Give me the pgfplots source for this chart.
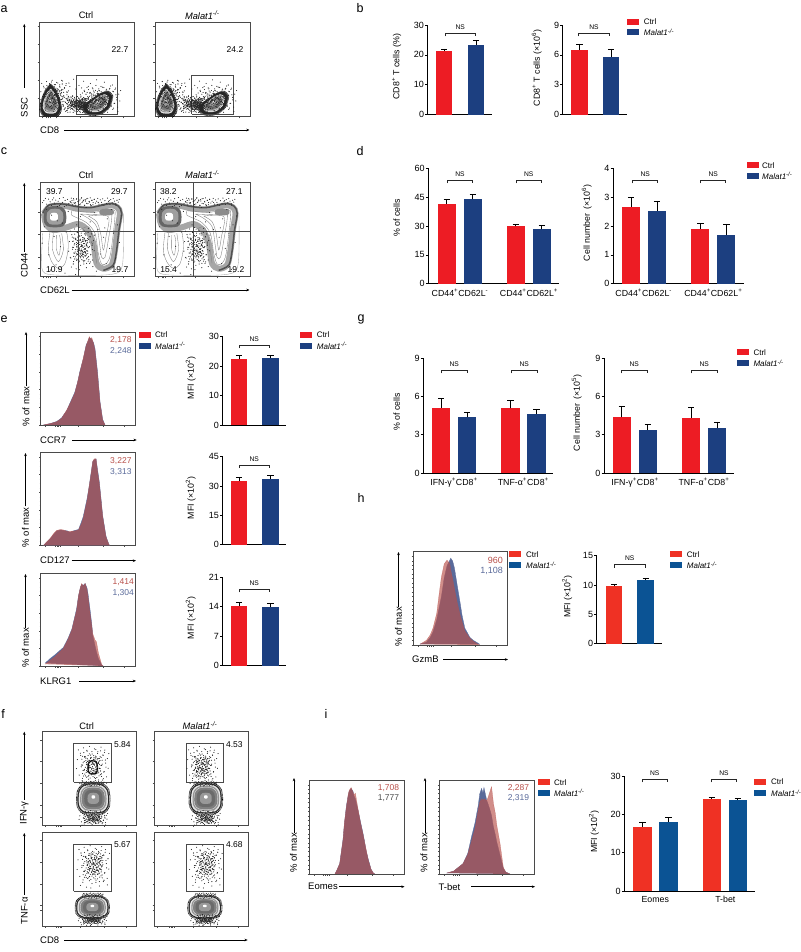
\documentclass[border=0pt]{standalone}
\usepackage{pgfplots}
\pgfplotsset{compat=1.18}
\usepackage{pgfplotstable}
\usepackage{fontspec}
\setmainfont{Liberation Sans}
\usetikzlibrary{arrows.meta}
\definecolor{cR}{HTML}{ED1C24}
\definecolor{cB}{HTML}{1C3F80}
\definecolor{dR}{HTML}{EF3124}
\definecolor{dB}{HTML}{0B5394}
\definecolor{hR}{HTML}{B8504A}
\definecolor{hB}{HTML}{5A6A9A}
\definecolor{fr}{HTML}{4A4A4A}
\newcommand\fs[1]{\fontsize{#1}{#1}\selectfont}
\newcommand\mal{\textit{Malat1}\textsuperscript{\textit{-/-}}}
% ---------- axis styles
\pgfplotsset{
 place/.style 2 args={at={(#1pt,{(952-#2)*1pt})},anchor=south west},
 barax/.style={scale only axis,axis x line=bottom,axis y line=left,
   axis line style={-,line width=.7pt,black},xmin=0,ymin=0,xtick=\empty,
   tick align=outside,ytick pos=left,major tick length=2.5pt,
   y tick style={line width=.6pt,black},x tick style={draw=none},
   /pgf/number format/assume math mode=true,
   yticklabel style={font=\fs{9},inner sep=1pt},
   xticklabel style={font=\fs{8.8},yshift=-1.5pt,inner sep=1pt},
   clip=false},
 ebar/.style={error bars/y dir=plus,error bars/y explicit,
   error bars/error mark options={rotate=90,mark size=3.2pt,line width=.7pt,black},
   error bars/error bar style={line width=.7pt,black}},
 rbar/.style={ybar,bar shift=0pt,fill=cR,draw=none,ebar},
 bbar/.style={ybar,bar shift=0pt,fill=cB,draw=none,ebar},
 facs/.style={scale only axis,axis line style={line width=.7pt,fr},
   xticklabels={},yticklabels={},tick align=outside,xtick pos=left,ytick pos=left,
   major tick length=1.6pt,minor tick length=1pt,minor x tick num=3,minor y tick num=3,
   tick style={line width=.35pt,fr},clip=true},
 hist/.style={facs,xmin=0,xmax=100,ymin=0,ymax=100,
   xtick={5,15,17,19,21,40,66,88},ytick={0,19,38,57,76,95}},
 hr/.style={fill=hR,fill opacity=.65,draw=hR,draw opacity=.6,line width=.3pt},
 hb/.style={fill=hB,draw=hB,line width=.3pt},
 gate/.style={draw=fr,line width=.7pt,no markers},
 spk/.style={only marks,mark=*,mark size=.25pt,black!85},
}
% ---------- annotation macros (positions in image pixels, y from top)
\newcommand\txt[4][9]{\node[font=\fs{#1},inner sep=0pt] at (#2,{952-#3}) {#4};}
\newcommand\ltxt[4][9.5]{\node[font=\fs{#1},inner sep=0pt,anchor=west] at (#2,{952-#3}) {#4};}
\newcommand\rtxt[5][8.5]{\node[font=\fs{#1},inner sep=0pt,anchor=east,text=#5] at (#2,{952-#3}) {#4};}
\newcommand\vtxt[4][8.8]{\node[font=\fs{#1},inner sep=0pt,rotate=90] at (#2,{952-#3}) {#4};}
\newcommand\NS[4]{\draw[line width=.55pt,black!85] (#1,{952-#3-3.2}) -- (#1,{952-#3}) -- (#2,{952-#3}) -- (#2,{952-#3-3.2});
  \node[font=\fs{6.7},inner sep=0pt] at ({(#1+#2)/2},{952-#4}) {NS};}
\newcommand\leg[6][cR]{\fill[#1] (#2,{952-#3-3}) rectangle ({#2+12},{952-#3+3});
  \fill[#6] (#2,{952-#4-3}) rectangle ({#2+12},{952-#4+3});
  \node[font=\fs{8},inner sep=0pt,anchor=west] at (#5,{952-#3}) {Ctrl};
  \node[font=\fs{8},inner sep=0pt,anchor=west] at (#5,{952-#4}) {\mal};}
\newcommand\harr[3]{\draw[line width=.6pt,-{Stealth[length=3.2pt,width=2.6pt]}] (#1,{952-#3}) -- (#2,{952-#3});}
\newcommand\varr[3]{\draw[line width=.6pt,-{Stealth[length=3.2pt,width=2.6pt]}] (#1,{952-#2}) -- (#1,{952-#3});}
\newcommand\lett[3]{\node[font=\fs{12.5},inner sep=0pt] at (#1,{952-#2}) {#3};}
% ---------- contour outlines, unit shapes read by eye
\pgfplotstableread{
x y
1 0
.92 .55
.6 .9
0 1
-.6 .9
-.92 .55
-1 0
-.95 -.55
-.65 -.92
0 -1
.65 -.92
.95 -.55
1 0
}\blobR
\pgfplotstableread{
x y
0 1
.45 .65
.8 .1
.95 -.5
.6 -.92
0 -1
-.6 -.92
-.95 -.5
-.8 .1
-.45 .65
0 1
}\blobT
\pgfplotstableread{
x y
1 .5
.7 .85
.2 .7
-.4 .25
-.95 -.3
-.95 -.7
-.5 -.95
.2 -.85
.8 -.3
1 .5
}\blobE
\pgfplotstableread{
x y
-.92 .31
-.81 -.44
-.74 .62
-.68 .05
-.63 -.71
-.55 .88
-.52 -.22
-.47 .41
-.41 -.93
-.38 .17
-.33 .72
-.28 -.51
-.22 -.08
-.19 .95
-.12 .36
-.08 -.77
-.03 .58
.02 -.34
.07 .12
.11 .83
.16 -.61
.21 .44
.26 -.15
.31 .69
.36 -.88
.4 .24
.46 -.42
.5 .91
.54 .03
.6 -.68
.63 .52
.69 -.27
.73 .77
.78 .14
.83 -.53
.88 .36
.93 -.11
.97 .6
-.97 -.13
-.86 .78
-.77 -.85
.84 -.83
.57 .28
-.15 -.97
.13 -.2
-.6 .47
}\speck
\newcommand\bl[6]{\addplot[smooth,no markers,#6] table[x expr={#2+#4*\thisrow{x}},y expr={#3-#5*\thisrow{y}}]{#1};}
\newcommand\cont[6]{%
 \bl{#1}{#2}{#3}{(#6+.07)*#4}{(#6+.07)*#5}{draw=black,line width=.9pt,dash pattern=on .6pt off .6pt}
 \bl{#1}{#2}{#3}{#6*#4}{#6*#5}{fill=black!85,draw=black!85}
 \bl{#1}{#2}{#3}{#4}{#5}{fill=black!10,draw=none}
 \bl{#1}{#2}{#3}{.9*#4}{.9*#5}{fill=black!42,draw=none}
 \bl{#1}{#2}{#3}{.8*#4}{.8*#5}{fill=black!50,draw=white,line width=.25pt}
 \bl{#1}{#2}{#3}{.62*#4}{.62*#5}{fill=black!58,draw=none}
 \bl{#1}{#2}{#3}{.4*#4}{.4*#5}{fill=black!40,draw=none}
 \bl{#1}{#2}{(#3-.1*#5)}{.12*#4}{.12*#5}{fill=white,draw=none}
}
\newcommand\spk[4]{\addplot[spk] table[x expr={#1+#3*\thisrow{x}},y expr={#2-#4*\thisrow{y}}]{\speck};}
% a cloud of specks thickening to its centre
\newcommand\cl[4]{%
 \spk{#1}{#2}{#3}{#4}
 \spk{(#1+2)}{(#2-3)}{(-.78*#3)}{(.78*#4)}
 \spk{(#1-2)}{(#2+2)}{(.58*#3)}{(-.58*#4)}
 \spk{(#1+1)}{(#2-1)}{(-.4*#3)}{(-.4*#4)}
}
% panel a contents
\newcommand\panelA{%
 \spk{240}{285}{100}{50}
 \cl{165}{292}{46}{54}
 \cl{300}{298}{64}{44}
 \cl{225}{312}{36}{26}
 \cl{252}{316}{26}{22}
 \cont{\blobT}{152}{303}{25}{38}{1.28}
 \cont{\blobE}{294}{308}{33}{30}{1.28}
}
% panel c contents
\newcommand\panelC{%
 \spk{245}{715}{122}{112}
 \spk{205}{606}{80}{14}
 \spk{285}{605}{75}{12}
 \addplot[no markers,smooth,draw=black!35,line width=.35pt] coordinates {(128,700)(125,780)(135,820)(220,826)(340,822)(368,790)(370,640)};
 \addplot[no markers,smooth,draw=black!35,fill=white,line width=6pt] coordinates {(132,640)(150,620)(190,617)(225,624)(270,628)(330,616)(352,622)(360,640)(352,690)(345,750)(335,795)(310,806)(290,790)(280,730)(262,690)(235,672)(200,682)(160,690)(138,672)(132,640)};
 \addplot[no markers,smooth,draw=black!68,line width=1.5pt] coordinates {(128,640)(147,615)(190,612)(225,619)(270,623)(330,611)(355,618)(365,640)(357,690)(350,750)(340,795)(310,811)};
 \addplot[no markers,smooth,draw=black!50,line width=.35pt] coordinates {(215,632)(280,637)(338,628)(345,650)(332,760)(320,790)(305,792)(295,760)(285,700)(260,668)(235,655)(215,645)(215,632)};
 \addplot[no markers,smooth,draw=black!50,line width=.35pt] coordinates {(240,642)(300,644)(335,640)(325,720)(315,772)(305,772)(300,740)(290,680)(265,655)(240,642)};
 \addplot[no markers,smooth,draw=black!50,line width=.35pt] coordinates {(265,648)(325,650)(318,710)(310,750)(302,700)(290,665)(265,648)};
 \addplot[no markers,smooth,draw=black!50,line width=.35pt] coordinates {(150,695)(145,750)(155,785)(175,805)(195,790)(205,740)(200,695)};
 \addplot[no markers,smooth,draw=black!50,line width=.35pt] coordinates {(160,700)(158,750)(175,785)(190,750)(185,700)};
 \addplot[no markers,smooth,draw=black!50,line width=.35pt] coordinates {(170,705)(170,750)(178,765)(182,725)(178,705)};
 \addplot[no markers,smooth,draw=black!50,line width=.35pt] coordinates {(240,690)(265,680)(278,710)(290,790)};
 \cl{245}{745}{40}{66}
 \bl{\blobR}{165}{650}{34}{32}{fill=black!60,draw=none}
 \bl{\blobR}{165}{650}{25}{24}{fill=black!38,draw=none}
 \bl{\blobR}{162}{650}{12}{12}{fill=white,draw=none}
 \bl{\blobR}{320}{636}{22}{10}{fill=black!45,draw=none}
}
% panel f clouds
\newcommand\cloudOne{%
 \cl{278}{228}{50}{62}
 \bl{\blobR}{278}{232}{14}{20}{draw=black,line width=1.5pt,dash pattern=on 1pt off .4pt}
 \bl{\blobR}{278}{232}{6}{10}{fill=white,draw=none}
}
\newcommand\cloudTwo{%
 \cl{270}{228}{48}{62}
 \spk{268}{232}{20}{28}
}
\newcommand\fblob{%
 \cl{280}{385}{44}{24}
 \spk{278}{281}{35}{7}
 \cont{\blobR}{280}{325}{44}{42}{1.07}
}
\newcommand\cloudThree{%
 \cl{280}{530}{50}{66}
 \spk{286}{515}{22}{30}
}
\newcommand\fblobb{%
 \cl{278}{690}{44}{17}
 \spk{278}{617}{32}{8}
 \cont{\blobR}{277}{651}{45}{31}{1.07}
}
% ---------- histograms, % of max against channel position
\pgfplotstableread{
x r b
2.8 0 0
10 1.5 1.5
17 3.5 3.8
22 7 7.5
27.5 16 15.5
32 25 26
36 34 35
39 46 46
41.5 57 58
45 72 71
48 85 86
50 91 90
51.4 95 94
53 92 93
54 94 92
56 87 88
57.4 80 82
60 55 58
62.7 24 25
65.5 5 6
68 0 0
}\hCCR
\pgfplotstableread{
x r b
3 0 0
10 7.5 7
14 13 12
17 16 15.5
21 17 16.5
24 16.5 16
28 15 15.5
31 15 14
36 15.5 16
40 16.5 17
43 23 25
45 29 31
49 48 50
51 62 62
53 75 76
55 90 90
56.5 93 92
58.5 93 93
60 80 82
62 66 68
65.5 31 32
69 9 10
72 1 1
73 0 0
}\hCD
\pgfplotstableread{
x r b
4.6 2 3
10 6 8
15 10 12
24 19 20
29 29 30
33 39 40
36 52 53
38 60 62
40 76 76
42 85 85
43.3 89 88
45 86 87
47 89 89
49 82 84
50 75 78
52 58 62
54 43 45
55 35 33
57.4 28 22
59 26 15
61 14 8
64.5 1.5 1
66 0 0
}\hKL
\pgfplotstableread{
x r b
7 .7 1
14 5 3
18 10.7 8
21 18 14
25 34 27
28 58 42
30 73 52
33 87 72
36 91 85
39 87 91
40 80 93
42 71 90
44 60 82
47 45 63
50 32 45
52 25 32
55 15 18
60.5 7 8
64 4 5
69 .7 2
71 0 .7
}\hGz
\pgfplotstableread{
x r b
27 0 0
29 4 4
32 11 11
35.5 36 37
37 55 54
39 71 72
41 85 84
42 89 88
44 92 91
46 87 88
47 84 83
48.5 86 80
51.5 68 67
54 54 55
57 40 41
60 25 24
62 15 16
65 5 5
67.4 1 1
69 0 0
}\hEo
\pgfplotstableread{
x r b
7.7 1 1
15 3 3
25 11 11
30 21 22
34 35 40
37.5 48 54
41 68 73
42.5 76 85
44.5 80 91
46 78 86
47 80 92
50 78 78
51.5 82 74
54 90 66
55 93 62
57 75 50
58.9 65 42
60.5 52 34
64 32 20
67.4 7 6
70 2 2
74.4 0 0
}\hTb
\begin{document}
\begin{tikzpicture}[x=1pt,y=1pt]
\useasboundingbox (0,0) rectangle (800,952);
% ===== panel letters
\lett{4}{9}{a}\lett{360}{8}{b}\lett{4}{151}{c}\lett{360}{151}{d}\lett{4}{319}{e}\lett{3}{714}{f}
\lett{361}{319}{g}\lett{361}{498}{h}\lett{326}{714}{i}
% ===== a
\begin{axis}[facs,place={39.3}{116.7},width=94.7pt,height=94pt,xmin=118,xmax=402,ymin=68,ymax=350,y dir=reverse,
 xtick={128,140,145,150,170,240,305,370},ytick={78,133,187,241,295}]
\panelA
\addplot[gate] coordinates {(228,343)(228,225)(352,225)(352,343)(228,343)};
\end{axis}
\begin{axis}[facs,place={155}{116.7},width=95pt,height=94pt,xmin=118,xmax=402,ymin=68,ymax=350,y dir=reverse,
 xtick={128,140,145,150,170,240,305,370},ytick={78,133,187,241,295}]
\panelA
\addplot[gate] coordinates {(228,343)(228,225)(352,225)(352,343)(228,343)};
\end{axis}
\txt[9.3]{86}{15}{Ctrl}\txt[9.3]{202.3}{15}{\mal}
\txt[8.5]{120}{49.3}{22.7}\txt[8.5]{235}{49.3}{24.2}
\varr{24.3}{88}{24}\vtxt[9.5]{24.3}{107.5}{SSC}
\ltxt{40}{130}{CD8}\harr{64}{249.5}{130}
% ===== c
\begin{axis}[facs,place={40}{276.7},width=94.3pt,height=94pt,xmin=120,xmax=403,ymin=548,ymax=830,y dir=reverse,
 xtick={130,140,145,150,170,240,305,370},ytick={568,637,703,770,803}]
\panelC
\addplot[gate] coordinates {(235,548)(235,830)};
\addplot[gate] coordinates {(120,693)(403,693)};
\end{axis}
\begin{axis}[facs,place={155}{276.7},width=95pt,height=94pt,xmin=120,xmax=403,ymin=548,ymax=830,y dir=reverse,
 xtick={130,140,145,150,170,240,305,370},ytick={568,637,703,770,803}]
\panelC
\addplot[gate] coordinates {(235,548)(235,830)};
\addplot[gate] coordinates {(120,693)(403,693)};
\end{axis}
\txt[9.3]{86}{174.7}{Ctrl}\txt[9.3]{202.3}{174.7}{\mal}
\txt[8.5]{54.3}{192}{39.7}\txt[8.5]{119.3}{192}{29.7}\txt[8.5]{54.3}{269.3}{10.9}\txt[8.5]{120}{269.3}{19.7}
\txt[8.5]{168.3}{191.5}{38.2}\txt[8.5]{234.3}{192}{27.1}\txt[8.5]{168.7}{269.3}{15.4}\txt[8.5]{236}{269.3}{19.2}
\varr{24.3}{251.7}{183}\vtxt[9.5]{24.3}{265}{CD44}
\ltxt{40}{290}{CD62L}\harr{71.7}{249.5}{290}
% ===== b
\begin{axis}[barax,place={427.7}{114.7},width=64pt,height=89.7pt,xmax=64,ymax=30,ytick={0,10,20,30}]
\addplot[rbar,bar width=16.5pt] coordinates {(16.5,21.4) +- (0,0.6)};
\addplot[bbar,bar width=16.5pt] coordinates {(48.3,23.4) +- (0,1.3)};
\end{axis}
\begin{axis}[barax,place={562.7}{114.7},width=64pt,height=89.7pt,xmax=64,ymax=9,ytick={0,3,6,9}]
\addplot[rbar,bar width=16.5pt] coordinates {(16.6,6.5) +- (0,0.6)};
\addplot[bbar,bar width=16.5pt] coordinates {(48.3,5.8) +- (0,0.8)};
\end{axis}
\NS{445}{475.3}{33.3}{27.3}\NS{578.7}{609.3}{33.3}{27.3}
\vtxt{396.7}{66.7}{CD8\textsuperscript{+} T cells (\%)}\vtxt{536.7}{68}{CD8\textsuperscript{+} T cells (×10\textsuperscript{6})}
\leg{627.3}{21.7}{32.3}{643.7}{cB}
% ===== d
\begin{axis}[barax,place={428.3}{283.7},width=131pt,height=115.4pt,xmax=131,ymax=60,ytick={0,15,30,45,60},
 xtick={31.7,100.7},xticklabels={CD44\textsuperscript{+}CD62L\textsuperscript{-},CD44\textsuperscript{+}CD62L\textsuperscript{+}}]
\addplot[rbar,bar width=18pt] coordinates {(18.4,41.5) +- (0,2.5)};
\addplot[bbar,bar width=18pt] coordinates {(44.4,44) +- (0,2.4)};
\addplot[rbar,bar width=18pt] coordinates {(87.5,29.8) +- (0,1)};
\addplot[bbar,bar width=18pt] coordinates {(113.5,28.2) +- (0,2.3)};
\end{axis}
\begin{axis}[barax,place={613}{283.7},width=131pt,height=115.4pt,xmax=131,ymax=4,ytick={0,1,2,3,4},
 xtick={30.7,100.3},xticklabels={CD44\textsuperscript{+}CD62L\textsuperscript{-},CD44\textsuperscript{+}CD62L\textsuperscript{+}}]
\addplot[rbar,bar width=18pt] coordinates {(18,2.67) +- (0,.33)};
\addplot[bbar,bar width=18pt] coordinates {(44,2.53) +- (0,.34)};
\addplot[rbar,bar width=18pt] coordinates {(87.3,1.9) +- (0,.2)};
\addplot[bbar,bar width=18pt] coordinates {(113.3,1.68) +- (0,.39)};
\end{axis}
\NS{447.3}{472.7}{180.3}{174.7}\NS{516}{541.3}{180.3}{174.7}\NS{632.7}{657.7}{180.3}{174.7}\NS{700.7}{725.7}{180.3}{174.7}
\vtxt{396.7}{218}{\% of cells}\vtxt{586.7}{223}{Cell number\, (×10\textsuperscript{6})}
\leg{746.7}{165.3}{176}{762}{cB}
% ===== e histograms
\begin{axis}[hist,place={40.7}{425},width=94.6pt,height=93pt]
\addplot[hb] table[x=x,y=b]{\hCCR};
\addplot[hr] table[x=x,y=r]{\hCCR};
\end{axis}
\begin{axis}[hist,place={40.7}{545.3},width=94.6pt,height=93pt]
\addplot[hb] table[x=x,y=b]{\hCD};
\addplot[hr] table[x=x,y=r]{\hCD};
\end{axis}
\begin{axis}[hist,place={40.7}{666},width=94.6pt,height=92.7pt]
\addplot[hb] table[x=x,y=b]{\hKL};
\addplot[hr] table[x=x,y=r]{\hKL};
\end{axis}
\rtxt{131.7}{340}{2,178}{hR}\rtxt{131.7}{350.7}{2,248}{hB}
\rtxt{131.7}{460.7}{3,227}{hR}\rtxt{131.7}{471.7}{3,313}{hB}
\rtxt{134}{581.7}{1,414}{hR}\rtxt{134}{592.7}{1,304}{hB}
\varr{26}{386.5}{332}\vtxt[9.5]{26}{406.7}{\% of max}
\varr{25.5}{506.5}{453}\vtxt[9.5]{25.5}{527.5}{\% of max}
\varr{25.5}{628}{574}\vtxt[9.5]{25.5}{648}{\% of max}
\ltxt{40}{440}{CCR7}\harr{72.3}{136.7}{440}
\ltxt{40}{560.7}{CD127}\harr{71.7}{136}{560.7}
\ltxt{40}{681}{KLRG1}\harr{79}{136}{681}
\leg{138.7}{335}{346}{155}{cB}
% ===== e bars
\begin{axis}[barax,place={222.7}{425},width=63.3pt,height=88.3pt,xmax=63.3,ymax=30,ytick={0,10,20,30}]
\addplot[rbar,bar width=16.5pt] coordinates {(16.3,22.4) +- (0,1.3)};
\addplot[bbar,bar width=16.5pt] coordinates {(47.8,22.8) +- (0,0.9)};
\end{axis}
\begin{axis}[barax,place={222.7}{544.7},width=63.3pt,height=88pt,xmax=63.3,ymax=45,ytick={0,15,30,45}]
\addplot[rbar,bar width=16.5pt] coordinates {(16.3,32.5) +- (0,2)};
\addplot[bbar,bar width=16.5pt] coordinates {(47.8,33.7) +- (0,1.8)};
\end{axis}
\begin{axis}[barax,place={222.7}{665.7},width=63.3pt,height=88.4pt,xmax=63.3,ymax=21,ytick={0,7,14,21}]
\addplot[rbar,bar width=16.5pt] coordinates {(16.3,14.2) +- (0,.8)};
\addplot[bbar,bar width=16.5pt] coordinates {(47.8,14) +- (0,.7)};
\end{axis}
\NS{239.3}{269.3}{345.3}{339}\NS{239.3}{269.3}{465}{459}\NS{239.3}{269.3}{589.3}{582.7}
\vtxt{190.7}{378}{MFI (×10\textsuperscript{2})}\vtxt{190.7}{498}{MFI (×10\textsuperscript{2})}\vtxt{190.7}{618}{MFI (×10\textsuperscript{2})}
\leg{300}{335}{346}{316.7}{cB}
% ===== g
\begin{axis}[barax,place={423.3}{473},width=130pt,height=115pt,xmax=130,ymax=9,ytick={0,3,6,9},
 xtick={30.7,100},xticklabels={IFN-γ\textsuperscript{+}CD8\textsuperscript{+},TNF-α\textsuperscript{+}CD8\textsuperscript{+}}]
\addplot[rbar,bar width=18.3pt] coordinates {(17.9,5.1) +- (0,.75)};
\addplot[bbar,bar width=18.3pt] coordinates {(43.9,4.35) +- (0,.4)};
\addplot[rbar,bar width=18.3pt] coordinates {(87.2,5.05) +- (0,.65)};
\addplot[bbar,bar width=18.3pt] coordinates {(113.2,4.6) +- (0,.35)};
\end{axis}
\begin{axis}[barax,place={604}{473},width=130pt,height=115pt,xmax=130,ymax=9,ytick={0,3,6,9},
 xtick={31,100},xticklabels={IFN-γ\textsuperscript{+}CD8\textsuperscript{+},TNF-α\textsuperscript{+}CD8\textsuperscript{+}}]
\addplot[rbar,bar width=18.3pt] coordinates {(17.8,4.35) +- (0,.85)};
\addplot[bbar,bar width=18.3pt] coordinates {(43.8,3.35) +- (0,.45)};
\addplot[rbar,bar width=18.3pt] coordinates {(87.2,4.3) +- (0,.8)};
\addplot[bbar,bar width=18.3pt] coordinates {(113.2,3.5) +- (0,.5)};
\end{axis}
\NS{441.3}{467.3}{370.3}{364}\NS{511.3}{537.3}{370.3}{364}\NS{621.3}{647.3}{370.3}{364}\NS{691.3}{717.3}{370.3}{364}
\vtxt{396.7}{411.7}{\% of cells}\vtxt{576.7}{413}{Cell number\, (×10\textsuperscript{5})}
\leg{737}{352.3}{363.3}{753.3}{cB}
% ===== h
\begin{axis}[hist,place={413.3}{645},width=93.7pt,height=93.3pt]
\addplot[hb] table[x=x,y=b]{\hGz};
\addplot[hr] table[x=x,y=r]{\hGz};
\end{axis}
\rtxt[9]{503}{560}{960}{hR}\rtxt[9]{503}{570.7}{1,108}{hB}
\varr{398.5}{607}{552}\vtxt[9.5]{398.5}{627}{\% of max}
\ltxt{412}{659.5}{GzmB}\harr{443}{508}{659.5}
\leg[dR]{509.3}{554.3}{565.3}{526}{dB}
\begin{axis}[barax,place={596.7}{643.7},width=65pt,height=88pt,xmax=65,ymax=15,ytick={0,5,10,15}]
\addplot[rbar,fill=dR,bar width=16.7pt] coordinates {(17.3,9.8) +- (0,.25)};
\addplot[bbar,fill=dB,bar width=16.7pt] coordinates {(49,10.85) +- (0,.35)};
\end{axis}
\NS{614.3}{645}{564.7}{558.7}
\vtxt{567.3}{596.7}{MFI (×10\textsuperscript{2})}
\leg[dR]{670}{554.3}{565.3}{686.7}{dB}
% ===== f
\begin{axis}[facs,place={42}{825.3},width=94pt,height=93.6pt,xmin=126,xmax=408,ymin=125,ymax=406,y dir=reverse,
 xtick={135,170,175,180,185,242,312,378},ytick={150,214,280,345,382}]
\cloudOne\fblob
\addplot[gate] coordinates {(221,277)(221,160)(333,160)(333,277)(221,277)};
\end{axis}
\begin{axis}[facs,place={154.3}{825.3},width=94.4pt,height=93.6pt,xmin=126,xmax=408,ymin=125,ymax=406,y dir=reverse,
 xtick={135,170,175,180,185,242,312,378},ytick={150,214,280,345,382}]
\cloudTwo\fblob
\addplot[gate] coordinates {(221,277)(221,160)(333,160)(333,277)(221,277)};
\end{axis}
\begin{axis}[facs,place={42}{926},width=94pt,height=93.7pt,xmin=126,xmax=408,ymin=427,ymax=708,y dir=reverse,
 xtick={135,170,175,180,185,242,312,378},ytick={452,517,583,647,662}]
\cloudThree\fblobb
\addplot[gate] coordinates {(221,604)(221,462)(333,462)(333,604)(221,604)};
\end{axis}
\begin{axis}[facs,place={154.3}{926},width=94.4pt,height=93.7pt,xmin=126,xmax=408,ymin=427,ymax=708,y dir=reverse,
 xtick={135,170,175,180,185,242,312,378},ytick={452,517,583,647,662}]
\cloudThree\fblobb
\addplot[gate] coordinates {(221,604)(221,462)(333,462)(333,604)(221,604)};
\end{axis}
\txt[9.3]{86.7}{725.7}{Ctrl}\txt[9.3]{200}{725.7}{\mal}
\txt[8.5]{122.3}{745}{5.84}\txt[8.5]{234.3}{745}{4.53}\txt[8.5]{122.3}{845}{5.67}\txt[8.5]{234.3}{845}{4.68}
\varr{24.3}{800}{731.7}\vtxt[9.5]{24.3}{813}{IFN-γ}
\varr{24.3}{895}{833}\vtxt[9.5]{24.3}{911}{TNF-α}
\ltxt{40}{940}{CD8}\harr{64}{247.7}{940}
% ===== i
\begin{axis}[hist,place={309.3}{874},width=95pt,height=94pt]
\addplot[hb] table[x=x,y=b]{\hEo};
\addplot[hr] table[x=x,y=r]{\hEo};
\end{axis}
\begin{axis}[hist,place={439.3}{874},width=95pt,height=94pt]
\addplot[hb] table[x=x,y=b]{\hTb};
\addplot[hr] table[x=x,y=r]{\hTb};
\end{axis}
\rtxt{399.3}{788}{1,708}{hR}\rtxt{399.3}{798}{1,777}{black!70}
\rtxt{529.3}{788}{2,287}{hR}\rtxt{529.3}{798}{2,319}{hB}
\varr{294}{833}{778}\vtxt[9.5]{293.5}{853}{\% of max}
\varr{425}{833}{778}\vtxt[9.5]{424}{853}{\% of max}
\ltxt{308}{886.7}{Eomes}\harr{339}{404.5}{886.7}
\ltxt{438.5}{886.7}{T-bet}\harr{471}{535}{886.7}
\leg[dR]{538.3}{782.3}{793}{554}{dB}
\begin{axis}[barax,place={624.3}{891},width=130.7pt,height=115pt,xmax=130.7,ymax=30,ytick={0,10,20,30},
 xtick={31,101},xticklabels={Eomes,T-bet}]
\addplot[rbar,fill=dR,bar width=18.3pt] coordinates {(18.2,16.8) +- (0,1.2)};
\addplot[bbar,fill=dB,bar width=18.3pt] coordinates {(44.2,18.1) +- (0,1.1)};
\addplot[rbar,fill=dR,bar width=18.3pt] coordinates {(87.5,24.1) +- (0,.4)};
\addplot[bbar,fill=dB,bar width=18.3pt] coordinates {(113.5,23.7) +- (0,.5)};
\end{axis}
\NS{642}{667.3}{779.3}{773.3}\NS{711.3}{736.7}{779.3}{773.3}
\vtxt{594}{831.7}{MFI (×10\textsuperscript{2})}
\leg[dR]{754.3}{782}{793.3}{771}{dB}
\end{tikzpicture}
\end{document}
